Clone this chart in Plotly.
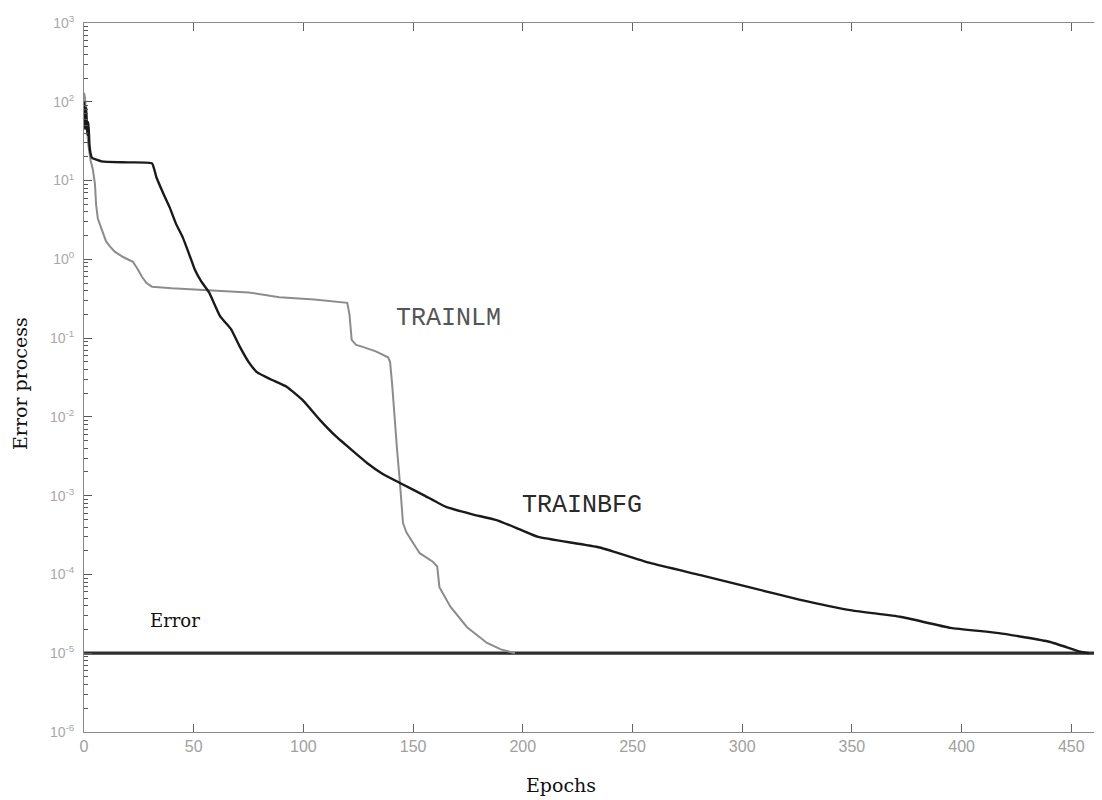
import plotly.graph_objects as go

# ---- data ----
bfg_epochs = [0, 0.5, 1, 1.5, 2, 2.5, 3, 3.6, 8, 20, 31, 33, 36, 39, 42, 45, 48, 50.6, 53.5, 57,
              62, 67, 71, 75, 78.8, 85, 92.5, 100, 107.6, 115, 122, 129, 136, 144, 155, 165, 177,
              188, 198, 207, 235, 258, 281, 304, 326, 350, 372, 395, 417, 440, 454, 458]
bfg_error = [100, 45, 85, 38, 55, 28, 22, 19.5, 17.5, 17, 16.5, 11, 7, 4.6, 2.8, 1.9, 1.15, 0.73, 0.52, 0.38,
             0.19, 0.13, 0.078, 0.05, 0.037, 0.03, 0.024, 0.016, 0.0091, 0.0056, 0.0038, 0.0026, 0.0019,
             0.00145, 0.00101, 0.00072, 0.00058, 0.00049, 0.00038, 0.0003, 0.00022, 0.00014, 9.8e-5,
             6.8e-5, 4.8e-5, 3.5e-5, 2.9e-5, 2.1e-5, 1.8e-5, 1.4e-5, 1.05e-5, 1.0e-5]

lm_epochs = [0, 0.5, 1, 2, 3, 4, 5, 5.5, 6.3, 7.3, 8.7, 10, 11.9, 14, 17.8, 20, 22.3, 24.5, 26.4, 28.5,
             31, 40, 56, 75, 89, 105, 120, 121, 122, 124, 126.7, 133, 138.6, 139.5, 140.4, 141.5,
             142.7, 144, 145.4, 147, 150, 153, 159, 161, 162, 167, 174.6, 183.7, 190, 196.4]
lm_error = [130, 110, 60, 28, 18, 14, 9, 5, 3.3, 2.8, 2.1, 1.7, 1.45, 1.25, 1.07, 1.0, 0.93, 0.75, 0.6, 0.5,
            0.45, 0.43, 0.41, 0.38, 0.33, 0.31, 0.28, 0.2, 0.095, 0.082, 0.078, 0.068, 0.057, 0.05, 0.027, 0.01,
            0.0038, 0.00145, 0.00045, 0.00034, 0.00025, 0.000186, 0.000145, 0.000126, 0.000069, 0.000039,
            0.0000214, 0.0000135, 0.0000112, 0.00001]

goal_epochs = [0, 470]
goal_error = [1e-5, 1e-5]

x_ticks = [0, 50, 100, 150, 200, 250, 300, 350, 400, 450]
y_decades = [-6, -5, -4, -3, -2, -1, 0, 1, 2, 3]

fig = go.Figure()
fig.add_trace(go.Scatter(x=goal_epochs, y=goal_error, mode="lines",
                         line=dict(color="#2e2e2e", width=3.2), showlegend=False))
fig.add_trace(go.Scatter(x=lm_epochs, y=lm_error, mode="lines",
                         line=dict(color="#8c8c8c", width=2), showlegend=False))
fig.add_trace(go.Scatter(x=bfg_epochs, y=bfg_error, mode="lines",
                         line=dict(color="#1a1a1a", width=2.4, shape="spline", smoothing=0.4),
                         showlegend=False))

# the page body has an 8px margin, so the figure margins are offset accordingly
fig.update_layout(
    width=1102, height=800,
    margin=dict(l=76, r=8, t=15, b=76, autoexpand=False),
    plot_bgcolor="white", paper_bgcolor="white",
    font=dict(family="Liberation Sans, Arial", color="#999999", size=13),
)

fig.update_xaxes(
    range=[0, 464], showgrid=False, zeroline=False, automargin=False,
    showline=True, linecolor="#8a8a8a", linewidth=1, mirror="ticks",
    ticks="inside", ticklen=8, tickcolor="#666666",
    tickvals=x_ticks, ticktext=[str(v) for v in x_ticks],
    tickfont=dict(size=16, color="#a0a0a0"),
)
fig.update_yaxes(
    type="log", range=[-6, 3], showgrid=False, zeroline=False, automargin=False,
    showline=True, linecolor="#8a8a8a", linewidth=1, mirror=True,
    ticks="inside", ticklen=8, tickcolor="#555555",
    tickvals=[10 ** d for d in y_decades],
    ticktext=["10<sup>%d</sup>" % d for d in y_decades],
    tickfont=dict(size=14, color="#a8a8a8"),
    ticklabelstandoff=6,
    minor=dict(ticks="inside", ticklen=4, tickcolor="#555555", dtick="D1", showgrid=False),
)

common = dict(showarrow=False, xanchor="center", yanchor="middle")
fig.add_annotation(x=166, y=-0.745, xref="x", yref="y", text="TRAINLM",
                   font=dict(family="Liberation Mono, Courier New", size=25, color="#555555"), **common)
fig.add_annotation(x=227, y=-3.12, xref="x", yref="y", text="TRAINBFG",
                   font=dict(family="Liberation Mono, Courier New", size=25, color="#2a2a2a"), **common)
fig.add_annotation(x=41.5, y=-4.58, xref="x", yref="y", text="Error",
                   font=dict(family="DejaVu Serif, Liberation Serif", size=18, color="#111111"), **common)

fig.add_annotation(x=(561 - 84) / 1018, y=-(785 - 732) / 709, xref="paper", yref="paper",
                   text="Epochs",
                   font=dict(family="DejaVu Serif, Liberation Serif", size=19, color="#111111"), **common)
fig.add_annotation(x=(20 - 84) / 1018, y=(732 - 384) / 709, xref="paper", yref="paper",
                   text="Error process", textangle=-90,
                   font=dict(family="DejaVu Serif, Liberation Serif", size=19, color="#111111"), **common)

fig.write_html("out.html")
